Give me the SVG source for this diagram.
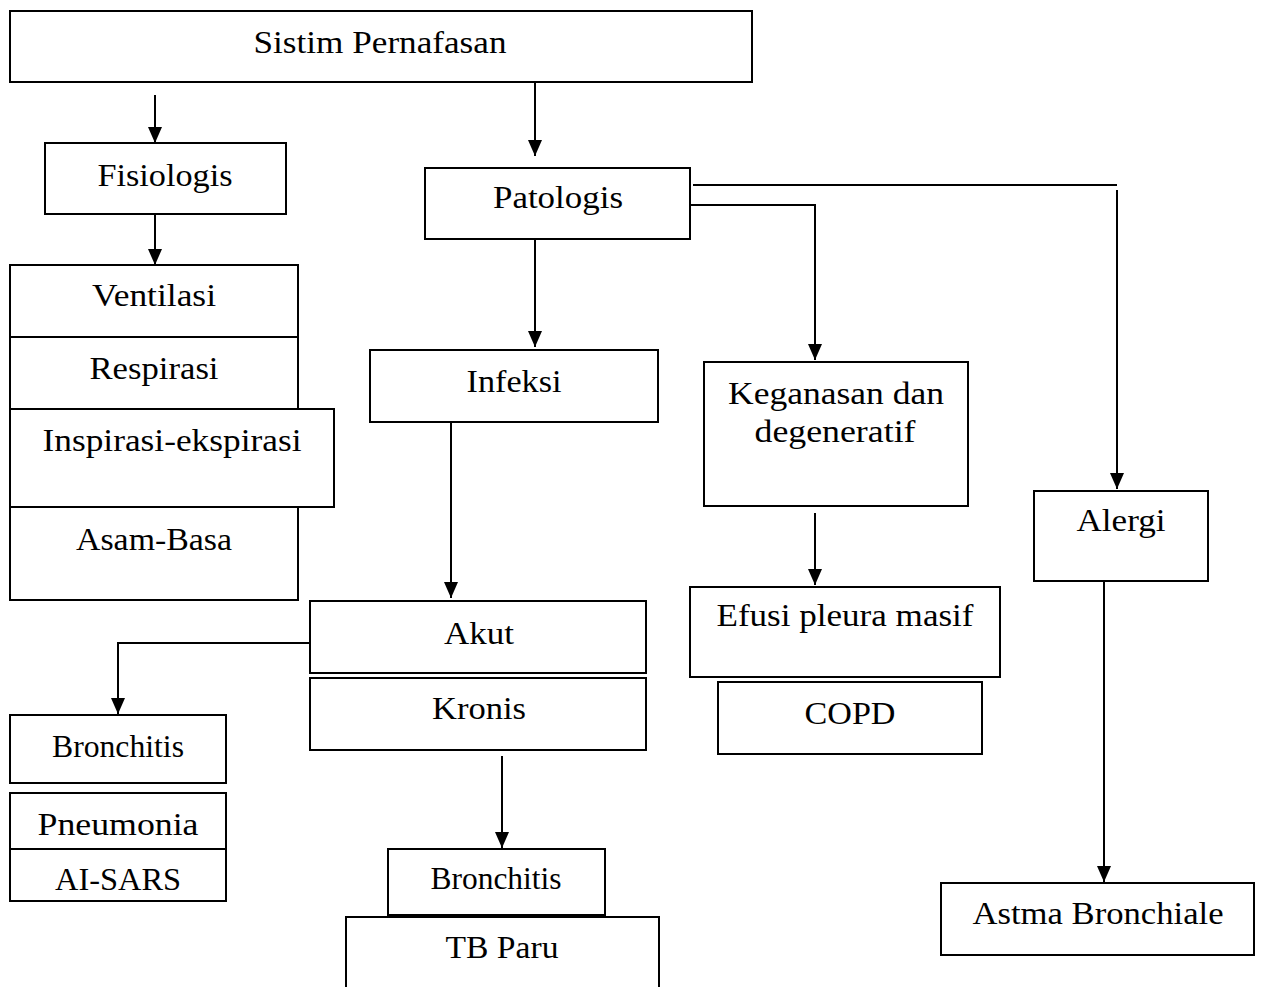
<svg xmlns="http://www.w3.org/2000/svg" width="1262" height="987" viewBox="0 0 1262 987">
<style>
.box{fill:#fff;stroke:#000;stroke-width:2}
.t{font-family:"Liberation Serif","DejaVu Serif",serif;font-size:32px;fill:#000;text-anchor:middle}
.c{fill:none;stroke:#000;stroke-width:2}
</style>
<defs>
<marker id="ah" viewBox="0 0 16 14" refX="16" refY="7" markerWidth="16" markerHeight="14" markerUnits="userSpaceOnUse" orient="auto">
<path d="M0,0 L16,7 L0,14 z" fill="#000"/>
</marker>
</defs>
<rect width="1262" height="987" fill="#fff"/>
<g id="connectors">
<path class="c" d="M155,95 V143" marker-end="url(#ah)"/>
<path class="c" d="M535,82 V156" marker-end="url(#ah)"/>
<path class="c" d="M155,214 V265" marker-end="url(#ah)"/>
<path class="c" d="M535,239 V347" marker-end="url(#ah)"/>
<path class="c" d="M451,422 V598" marker-end="url(#ah)"/>
<path class="c" d="M310,643 H118 V714" marker-end="url(#ah)"/>
<path class="c" d="M502,756 V848" marker-end="url(#ah)"/>
<path class="c" d="M690,205 H815 V360" marker-end="url(#ah)"/>
<path class="c" d="M815,513 V585" marker-end="url(#ah)"/>
<path class="c" d="M693,185 H1117"/>
<path class="c" d="M1117,190 V489" marker-end="url(#ah)"/>
<path class="c" d="M1104,581 V882" marker-end="url(#ah)"/>
</g>
<g id="n-sistim"><rect class="box" x="10" y="11" width="742" height="71"/><text class="t" x="380" y="53" textLength="253" lengthAdjust="spacingAndGlyphs">Sistim Pernafasan</text></g>
<g id="n-fisiologis"><rect class="box" x="45" y="143" width="241" height="71"/><text class="t" x="165" y="186" textLength="135" lengthAdjust="spacingAndGlyphs">Fisiologis</text></g>
<g id="n-ventilasi"><rect class="box" x="10" y="265" width="288" height="72"/><text class="t" x="154" y="306" textLength="124" lengthAdjust="spacingAndGlyphs">Ventilasi</text></g>
<g id="n-respirasi"><rect class="box" x="10" y="337" width="288" height="72"/><text class="t" x="154" y="379" textLength="129" lengthAdjust="spacingAndGlyphs">Respirasi</text></g>
<g id="n-inspirasi"><rect class="box" x="10" y="409" width="324" height="98"/><text class="t" x="172" y="451" textLength="259" lengthAdjust="spacingAndGlyphs">Inspirasi-ekspirasi</text></g>
<g id="n-asam"><rect class="box" x="10" y="507" width="288" height="93"/><text class="t" x="154" y="550" textLength="156" lengthAdjust="spacingAndGlyphs">Asam-Basa</text></g>
<g id="n-patologis"><rect class="box" x="425" y="168" width="265" height="71"/><text class="t" x="558" y="208" textLength="130" lengthAdjust="spacingAndGlyphs">Patologis</text></g>
<g id="n-infeksi"><rect class="box" x="370" y="350" width="288" height="72"/><text class="t" x="514" y="392" textLength="95" lengthAdjust="spacingAndGlyphs">Infeksi</text></g>
<g id="n-keganasan"><rect class="box" x="704" y="362" width="264" height="144"/><text class="t" x="836" y="404" textLength="216" lengthAdjust="spacingAndGlyphs">Keganasan dan</text><text class="t" x="835" y="442" textLength="161" lengthAdjust="spacingAndGlyphs">degeneratif</text></g>
<g id="n-alergi"><rect class="box" x="1034" y="491" width="174" height="90"/><text class="t" x="1121" y="531" textLength="89" lengthAdjust="spacingAndGlyphs">Alergi</text></g>
<g id="n-akut"><rect class="box" x="310" y="601" width="336" height="72"/><text class="t" x="479" y="644" textLength="70" lengthAdjust="spacingAndGlyphs">Akut</text></g>
<g id="n-kronis"><rect class="box" x="310" y="678" width="336" height="72"/><text class="t" x="479" y="719" textLength="94" lengthAdjust="spacingAndGlyphs">Kronis</text></g>
<g id="n-efusi"><rect class="box" x="690" y="587" width="310" height="90"/><text class="t" x="845" y="626" textLength="257" lengthAdjust="spacingAndGlyphs">Efusi pleura masif</text></g>
<g id="n-copd"><rect class="box" x="718" y="682" width="264" height="72"/><text class="t" x="850" y="724" textLength="91" lengthAdjust="spacingAndGlyphs">COPD</text></g>
<g id="n-bronchitis1"><rect class="box" x="10" y="715" width="216" height="68"/><text class="t" x="118" y="757" textLength="132" lengthAdjust="spacingAndGlyphs">Bronchitis</text></g>
<g id="n-pneumonia"><rect class="box" x="10" y="793" width="216" height="56"/><text class="t" x="118" y="835" textLength="161" lengthAdjust="spacingAndGlyphs">Pneumonia</text></g>
<g id="n-aisars"><rect class="box" x="10" y="849" width="216" height="52"/><text class="t" x="118" y="890" textLength="126" lengthAdjust="spacingAndGlyphs">AI-SARS</text></g>
<g id="n-bronchitis2"><rect class="box" x="388" y="849" width="217" height="66"/><text class="t" x="496" y="889" textLength="131" lengthAdjust="spacingAndGlyphs">Bronchitis</text></g>
<g id="n-tbparu"><path class="c" d="M346,990 V917 H659 V990"/><text class="t" x="502" y="958" textLength="113" lengthAdjust="spacingAndGlyphs">TB Paru</text></g>
<g id="n-astma"><rect class="box" x="941" y="883" width="313" height="72"/><text class="t" x="1098" y="924" textLength="251" lengthAdjust="spacingAndGlyphs">Astma Bronchiale</text></g>
</svg>
